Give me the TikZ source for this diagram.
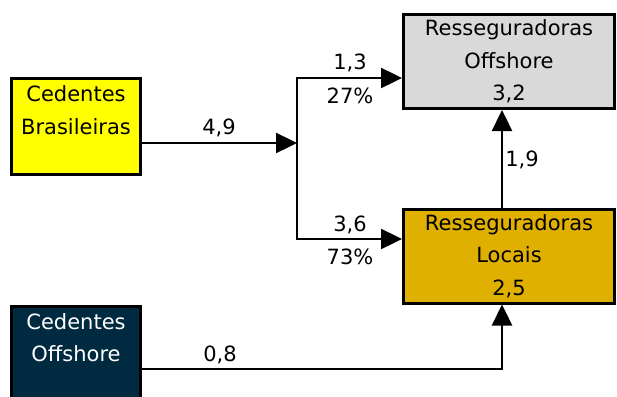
\documentclass[tikz,border=0pt]{standalone}
\usepackage{fontspec}
\setmainfont{DejaVu Sans}
\usetikzlibrary{arrows.meta}

\definecolor{cbyellow}{HTML}{FFFF00}
\definecolor{offgray}{HTML}{D9D9D9}
\definecolor{locgold}{HTML}{E0B000}
\definecolor{conavy}{HTML}{002A40}

\tikzset{
    flowtip/.tip={Triangle[length=21pt, width=20pt]},
    wire/.style={line width=2.4pt},
    flow/.style={wire, -flowtip},
    box/.style={draw=black, line width=3pt, align=center, inner sep=0pt},
    bigbox/.style={box, minimum width=211pt, minimum height=94pt},
    smallbox/.style={box, minimum width=129.5pt, minimum height=96pt},
    lbl/.style={inner sep=0pt}
}

\begin{document}
\begin{tikzpicture}[x=1pt, y=-1pt, font=\fontsize{21}{32.5}\selectfont]
                \useasboundingbox (0, 0) rectangle (617, 396);
                \clip (0, 0) rectangle (617, 396);

                \node[bigbox, fill=offgray] (off) at (509, 61.5) {Resseguradoras\\Offshore\\3,2};
                \node[bigbox, fill=locgold] (loc) at (509, 256) {Resseguradoras\\Locais\\2,5};
                \node[smallbox, fill=cbyellow] (cb) at (76, 126.5) {Cedentes\\Brasileiras\\\phantom{0}};
                \node[smallbox, fill=conavy, text=white] (co) at (76, 354) {Cedentes\\Offshore\\\phantom{0}};

                \coordinate (split) at (297, 143);
                \coordinate (top) at (297, 78);
                \coordinate (bot) at (297, 239);
                \coordinate (corner) at (502, 369);

                \draw[flow] (cb.east |- split) -- (split);
                \node[lbl] (v49) at (219, 128) {4,9};

                \draw[wire, flowtip-flowtip] (top -| off.west) -- (top) -- (bot) -- (bot -| loc.west);
                \node[lbl] (v13) at (350, 63) {1,3};
                \node[lbl] (p27) at (350, 96) {27\%};
                \node[lbl] (v36) at (350, 225) {3,6};
                \node[lbl] (p73) at (350, 257) {73\%};

                \draw[flow] (loc.north -| corner) -- (off.south -| corner);
                \node[lbl] (v19) at (522, 160) {1,9};

                \draw[flow] (co.east |- corner) -- (corner) -- (corner |- loc.south);
                \node[lbl] (v08) at (220, 355) {0,8};
\end{tikzpicture}
\end{document}
